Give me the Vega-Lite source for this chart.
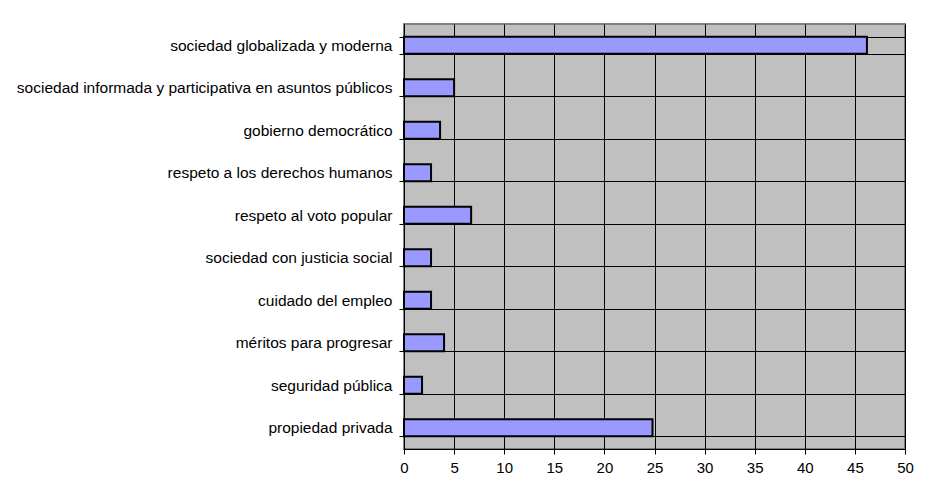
{
  "$schema": "https://vega.github.io/schema/vega-lite/v6.json",
  "autosize": "none",
  "width": 501,
  "height": 425,
  "padding": {"left": 404, "top": 24, "right": 27, "bottom": 55},
  "background": "white",
  "data": {
    "values": [
      {"categoria": "sociedad globalizada y moderna", "valor": 46.2},
      {"categoria": "sociedad informada y participativa en asuntos públicos", "valor": 5.0},
      {"categoria": "gobierno democrático", "valor": 3.6},
      {"categoria": "respeto a los derechos humanos", "valor": 2.7},
      {"categoria": "respeto al voto popular", "valor": 6.7},
      {"categoria": "sociedad con justicia social", "valor": 2.7},
      {"categoria": "cuidado del empleo", "valor": 2.7},
      {"categoria": "méritos para progresar", "valor": 4.0},
      {"categoria": "seguridad pública", "valor": 1.8},
      {"categoria": "propiedad privada", "valor": 24.8}
    ]
  },
  "mark": {"type": "bar", "fill": "#9999ff", "stroke": "#000000", "strokeWidth": 2},
  "encoding": {
    "y": {
      "field": "categoria",
      "type": "nominal",
      "sort": null,
      "scale": {"paddingInner": 0.6, "paddingOuter": 0.3},
      "axis": {
        "title": null,
        "tickBand": "extent",
        "grid": true,
        "gridColor": "#000000",
        "gridOpacity": 1,
        "gridWidth": 1,
        "domainColor": "#000000",
        "domainWidth": 1,
        "tickColor": "#000000",
        "tickSize": 5,
        "labelPadding": 7,
        "labelFont": "Liberation Sans",
        "labelFontSize": 15.5,
        "labelColor": "#000000",
        "labelLimit": 0
      }
    },
    "x": {
      "field": "valor",
      "type": "quantitative",
      "scale": {"domain": [0, 50], "nice": false},
      "axis": {
        "title": null,
        "values": [0, 5, 10, 15, 20, 25, 30, 35, 40, 45, 50],
        "grid": true,
        "gridColor": "#000000",
        "gridOpacity": 1,
        "gridWidth": 1,
        "domainColor": "#000000",
        "domainWidth": 1,
        "tickColor": "#000000",
        "tickSize": 5,
        "labelPadding": 6,
        "labelFont": "Liberation Sans",
        "labelFontSize": 15,
        "labelColor": "#000000",
        "labelFlush": false
      }
    }
  },
  "config": {
    "view": {"fill": "#c0c0c0", "stroke": "#808080", "strokeWidth": 2}
  }
}
